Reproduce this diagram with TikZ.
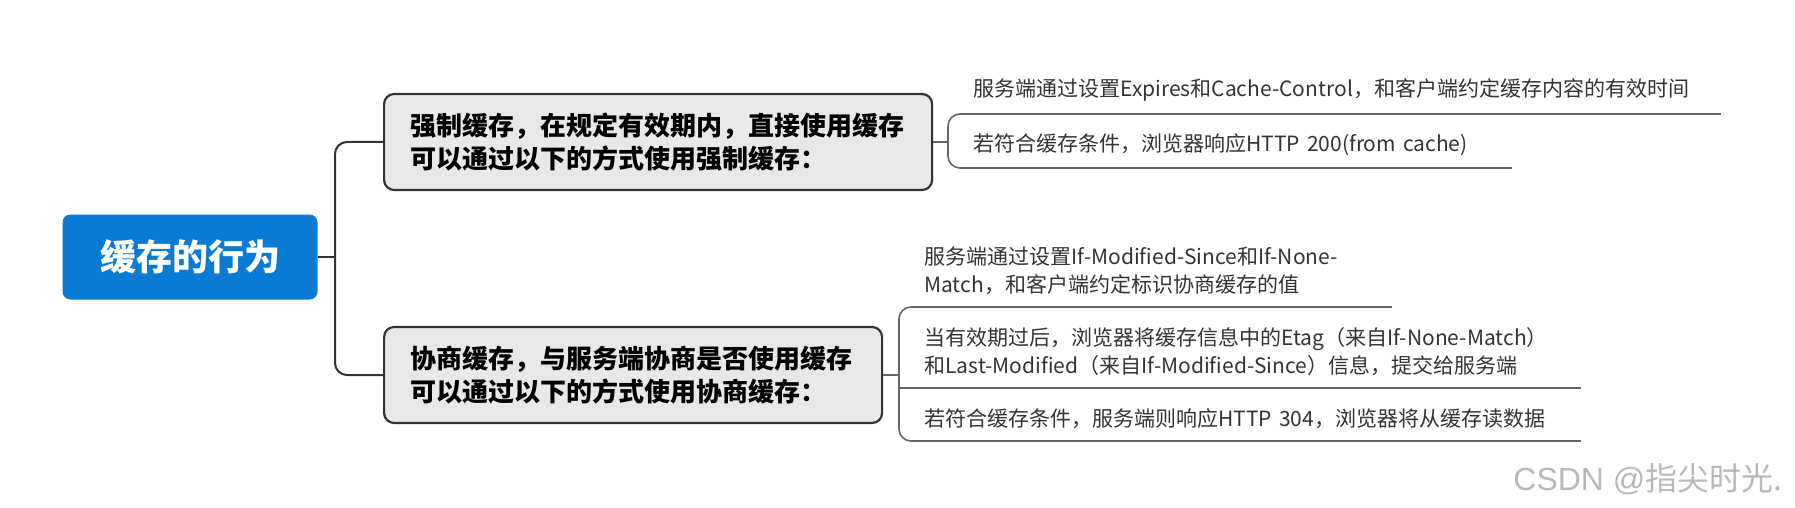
\documentclass[tikz,border=0pt]{standalone}
\usepackage{fontspec}
\setmainfont{Noto Sans CJK SC}
\newfontfamily\markfont{Liberation Sans}
\definecolor{topicblue}{HTML}{0A7BD5}
\definecolor{boxgray}{HTML}{E8E8E8}

\tikzset{
  topic/.style={fill=topicblue, text=white, rounded corners=4pt,
    minimum width=127.5pt, minimum height=42.5pt,
    font=\bfseries\fontsize{18}{20}\selectfont},
  branch/.style={draw=black!80, fill=boxgray, line width=1.1pt,
    rounded corners=5pt, anchor=west, align=left, inner xsep=13pt,
    minimum height=48pt, font=\bfseries\fontsize{13}{16.5}\selectfont},
  leaf/.style={anchor=south west, align=left, inner xsep=12.5pt,
    inner ysep=6pt, text=black!80, font=\fontsize{10.5}{13.7}\selectfont,
    execute at begin node={\exhyphenpenalty=10000}},
  link/.style={draw=black!80, line width=1pt, rounded corners=6pt},
  twig/.style={draw=black!60, line width=0.8pt, rounded corners=6pt},
}

\begin{document}
\begin{tikzpicture}[x=0.5pt, y=-0.5pt]
\useasboundingbox (0,0) rectangle (1795,508);

\coordinate (fork) at (335,257);

% main topic and the two branches
\node[topic] (root) at (190,257) {缓存的行为};
\node[branch, text width=248pt] (force) at (383,142)
  {强制缓存，在规定有效期内，直接使用缓存\\可以通过以下的方式使用强制缓存：};
\node[branch, text width=223pt] (nego) at (383,375)
  {协商缓存，与服务端协商是否使用缓存\\可以通过以下的方式使用协商缓存：};

% leaves of the first branch
\node[leaf, text width=361pt] (f1) at (948,114)
  {服务端通过设置Expires和Cache-Control，和客户端约定缓存内容的有效时间};
\node[leaf, text width=256.5pt] (f2) at (948,168)
  {若符合缓存条件，浏览器响应HTTP~200(from~cache)};

% leaves of the second branch
\node[leaf, text width=221pt] (g1) at (899,307)
  {服务端通过设置If-Modified-Since和If-None-\\Match，和客户端约定标识协商缓存的值};
\node[leaf, text width=315.5pt] (g2) at (899,388)
  {当有效期过后，浏览器将缓存信息中的Etag（来自If-None-Match）\\和Last-Modified（来自If-Modified-Since）信息，提交给服务端};
\node[leaf, text width=315.5pt] (g3) at (899,441)
  {若符合缓存条件，服务端则响应HTTP~304，浏览器将从缓存读数据};

% connectors
\draw[link] (root.east) -- (fork);
\draw[link] (force.west) -| (fork) |- (nego.west);

\draw[twig] (force.east) -- (force.east -| f1.south west);
\draw[twig] (f1.south east) -- (f1.south west) -- (f2.south west) -- (f2.south east);

\draw[twig] (nego.east) -- (nego.east -| g1.south west);
\draw[twig] (g1.south east) -- (g1.south west) -- (g3.south west) -- (g3.south east);
\draw[twig] (g2.south west) -- (g2.south east);

\node[anchor=west, inner sep=0pt, text=black!28, font=\fontsize{16}{16}\selectfont]
  (mark) at (1513,479) {{\markfont CSDN @}指尖时光.};
\end{tikzpicture}
\end{document}
